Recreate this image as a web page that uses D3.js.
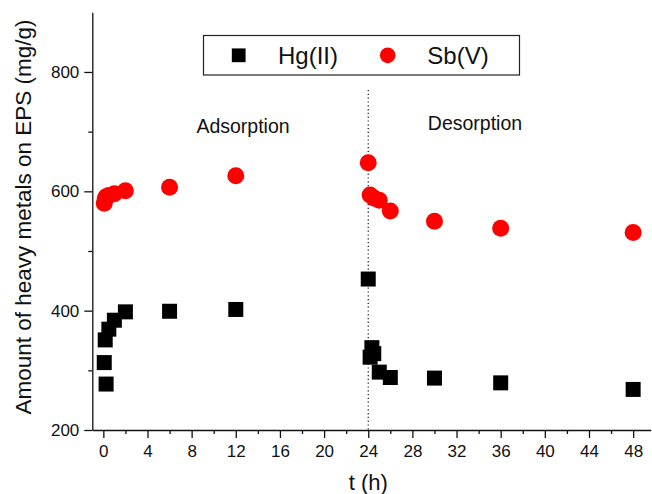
<!DOCTYPE html>
<html>
<head>
<meta charset="utf-8">
<script src="https://cdn.jsdelivr.net/npm/d3@7/dist/d3.min.js"></script>
<style>
  body { margin: 0; background: #fff; }
  svg text { font-family: Arial, "Liberation Sans", sans-serif; fill: #111; }
  .axis path, .axis line { stroke: #111; stroke-width: 1.3; }
</style>
</head>
<body>
<div id="chart"></div>
<script>
// Hg(II) and Sb(V) on EPS, adsorption (0-24 h) then desorption (24-48 h)
var hgTime  = [0.083, 0.17, 0.25, 0.5, 1, 2, 6, 12, 24, 24.17, 24.33, 24.5, 25, 26, 30, 36, 48];
var hgValue = [313, 351, 277, 369, 384, 398, 399, 402, 453, 322, 338, 328, 297, 288, 287, 279, 268];

var sbTime  = [0.083, 0.17, 0.25, 0.5, 1, 2, 6, 12, 24, 24.17, 24.5, 25, 26, 30, 36, 48];
var sbValue = [580, 588, 591, 593, 596, 601, 607, 626, 648, 594, 589, 585, 567, 550, 538, 531];

var xTicks = d3.range(0, 49, 4);
var xMinor = d3.range(2, 48, 4);
var yTicks = [200, 400, 600, 800];
var yMinor = [300, 500, 700];

var W = 652, H = 494;

var svg = d3.select('#chart')
	.append('svg')
	.attr('width', W)
	.attr('height', H);

// scales
var x = d3.scaleLinear()
	.domain([-1, 49.6])
	.range([92.3, 650.8]);

var y = d3.scaleLinear()
	.domain([200, 900])
	.range([430, 12.3]);

// minor ticks first, majors on top
svg.append('g')
	.attr('class', 'axis')
	.attr('transform', 'translate(0,' + y(200) + ')')
	.call(d3.axisBottom(x).tickValues(xMinor).tickSize(4).tickSizeOuter(0).tickFormat(''))
	.select('.domain').remove();

svg.append('g')
	.attr('class', 'axis')
	.attr('transform', 'translate(' + x(-1) + ',0)')
	.call(d3.axisLeft(y).tickValues(yMinor).tickSize(4).tickSizeOuter(0).tickFormat(''))
	.select('.domain').remove();

var xAxis = svg.append('g')
	.attr('class', 'axis')
	.attr('transform', 'translate(0,' + y(200) + ')')
	.call(d3.axisBottom(x).tickValues(xTicks).tickSize(8).tickSizeOuter(0).tickPadding(5));
xAxis.selectAll('text').style('font-size', '17px').attr('dy', '0.85em');

var yAxis = svg.append('g')
	.attr('class', 'axis')
	.attr('transform', 'translate(' + x(-1) + ',0)')
	.call(d3.axisLeft(y).tickValues(yTicks).tickSize(8).tickSizeOuter(0).tickPadding(5));
yAxis.selectAll('text').style('font-size', '17px');

// axis titles
svg.append('text')
	.attr('x', x(24))
	.attr('y', 490)
	.attr('text-anchor', 'middle')
	.style('font-size', '22px')
	.text('t (h)');

svg.append('text')
	.attr('transform', 'translate(31,' + 217 + ') rotate(-90)')
	.attr('text-anchor', 'middle')
	.style('font-size', '22.5px')
	.text('Amount of heavy metals on EPS (mg/g)');

// dotted divider at 24 h
svg.append('line')
	.attr('x1', x(24)).attr('x2', x(24))
	.attr('y1', 90).attr('y2', y(200))
	.attr('stroke', '#111')
	.attr('stroke-width', 1.2)
	.attr('stroke-dasharray', '1.2,2.6');

svg.append('text')
	.attr('x', 243).attr('y', 132.5)
	.attr('text-anchor', 'middle')
	.style('font-size', '19.5px')
	.text('Adsorption');

svg.append('text')
	.attr('x', 475).attr('y', 130)
	.attr('text-anchor', 'middle')
	.style('font-size', '19.5px')
	.text('Desorption');

// markers
var square = d3.symbol().type(d3.symbolSquare).size(225);
var circle = d3.symbol().type(d3.symbolCircle).size(227);

svg.selectAll('.hg')
	.data(hgTime)
	.enter().append('path')
	.attr('class', 'hg')
	.attr('d', square())
	.attr('fill', '#000')
	.attr('transform', function(d, i) { return 'translate(' + x(d) + ',' + y(hgValue[i]) + ')'; });

svg.selectAll('.sb')
	.data(sbTime)
	.enter().append('path')
	.attr('class', 'sb')
	.attr('d', circle())
	.attr('fill', '#ff0000')
	.attr('transform', function(d, i) { return 'translate(' + x(d) + ',' + y(sbValue[i]) + ')'; });

// legend
var legend = svg.append('g');
legend.append('rect')
	.attr('x', 203.5).attr('y', 35.5)
	.attr('width', 316).attr('height', 39.5)
	.attr('fill', '#fff')
	.attr('stroke', '#222')
	.attr('stroke-width', 1.2);

legend.append('path')
	.attr('d', d3.symbol().type(d3.symbolSquare).size(190)())
	.attr('fill', '#000')
	.attr('transform', 'translate(238.7,55.3)');
legend.append('text')
	.attr('x', 278).attr('y', 64)
	.style('font-size', '24px')
	.text('Hg(II)');

legend.append('path')
	.attr('d', d3.symbol().type(d3.symbolCircle).size(194)())
	.attr('fill', '#ff0000')
	.attr('transform', 'translate(387.7,55.3)');
legend.append('text')
	.attr('x', 427.3).attr('y', 64)
	.style('font-size', '24px')
	.text('Sb(V)');
</script>
</body>
</html>
